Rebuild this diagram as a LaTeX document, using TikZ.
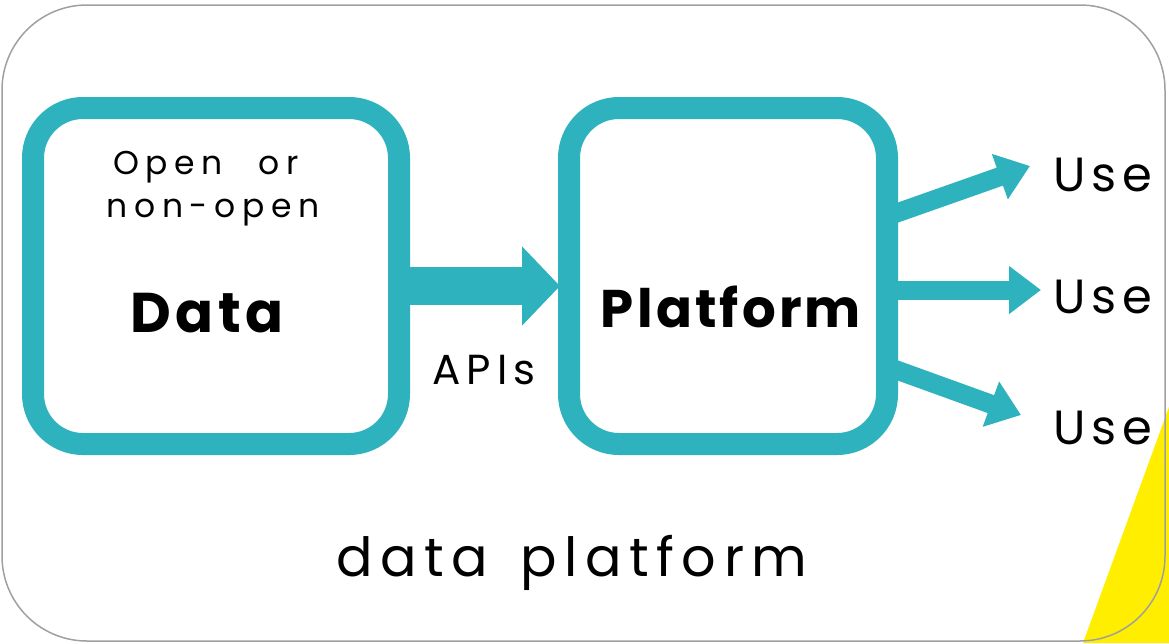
\documentclass[tikz,border=0pt]{standalone}
\usepackage{fontspec}
\setmainfont{Poppins}
\usetikzlibrary{arrows.meta,calc}
\definecolor{tealc}{RGB}{46,178,190}
\definecolor{yellowc}{RGB}{255,238,0}
\definecolor{frame}{RGB}{160,160,160}
\begin{document}
\begin{tikzpicture}[x=1pt,y=-1pt,
  tealbox/.style={draw=tealc, line width=22pt, fill=white, rounded corners=50pt, inner sep=0pt, outer sep=0pt},
  bigarrow/.style={draw=tealc, line width=38pt, -{Triangle[width=77pt,length=38pt]}},
  usearrow/.style={draw=tealc, line width=19pt, -{Triangle[width=46pt,length=32pt]}},
  txt/.style={inner sep=0pt, text=black},
  small/.style={txt, font=\fontsize{33}{40}\selectfont\addfontfeature{LetterSpace=20}},
  big/.style={txt, font=\fontsize{56}{60}\selectfont\bfseries\addfontfeature{LetterSpace=8}},
  usetxt/.style={txt, anchor=west, font=\fontsize{48}{50}\selectfont\addfontfeature{LetterSpace=12}}]
\useasboundingbox (0,0) rectangle (1169,643);
% outer frame
\fill[white, rounded corners=85pt] (2,5) rectangle (1165,641);
\fill[yellowc] (1169,407) -- (1169,643) -- (1083,643) -- cycle;
\draw[frame, line width=1.5pt, rounded corners=85pt] (2,5) rectangle (1165,641);
% boxes
\node[tealbox, minimum width=366pt, minimum height=336pt] (Data) at (216,276) {};
\node[tealbox, minimum width=318pt, minimum height=336pt] (Platform) at (728,276) {};
% texts in boxes
\node[small] (open) at (206,167) {Open\hspace{36pt}or};
\node[small] (nonopen) at (213,213) {non-open};
\node[big] (datat) at (207,313) {Data};
\node[big, font=\fontsize{53}{60}\selectfont\bfseries\addfontfeature{LetterSpace=6}] (platt) at (731,307) {Platform};
\node[txt, font=\fontsize{42}{44}\selectfont\addfontfeature{LetterSpace=14}] (apis) at (484,370) {APIs};
% uses
\node[usetxt] (use1) at (1053,175) {Use};
\node[usetxt] (use2) at (1053,297) {Use};
\node[usetxt] (use3) at (1053,428) {Use};
\coordinate (t1) at (1030,166);
\coordinate (t2) at (1041,290);
\coordinate (t3) at (1021,415);
% arrows
\draw[bigarrow] ([xshift=11pt,yshift=-10pt]Data.east) -- ([xshift=-9pt,yshift=-10pt]Platform.west);
\draw[usearrow] ([xshift=4pt,yshift=61pt]Platform.east) -- (t1);
\draw[usearrow] ([xshift=4pt,yshift=-14pt]Platform.east) -- (t2);
\draw[usearrow] ([xshift=4pt,yshift=-92pt]Platform.east) -- (t3);
% caption
\node[txt, font=\fontsize{54}{60}\selectfont\addfontfeature{LetterSpace=14}] (caption) at (572,563) {data\hspace{10pt} platform};
\end{tikzpicture}
\end{document}
